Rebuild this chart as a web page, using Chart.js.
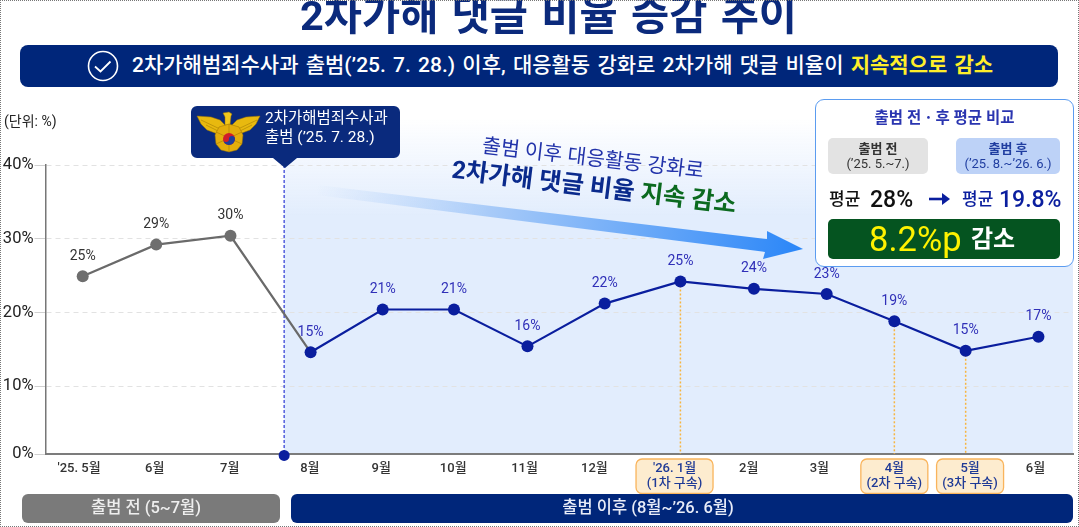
<!DOCTYPE html>
<html lang="ko">
<head>
<meta charset="UTF-8">
<title>2차가해 댓글 비율 증감 추이</title>
<script src="https://cdn.jsdelivr.net/npm/chart.js"></script>
<style>
  html, body { margin: 0; padding: 0; background: #fff; }
  body { width: 1079px; height: 527px; position: relative; overflow: hidden;
         font-family: Roboto, "Noto Sans CJK KR", sans-serif; }
  #frame { position: absolute; inset: 0; border: 1px dotted #777; box-sizing: border-box; z-index: 9; pointer-events: none; }
  canvas { position: absolute; left: 0; top: 0; }
  .t { position: absolute; white-space: nowrap; line-height: 1; }
  .c { text-align: center; }
  .box { position: absolute; box-sizing: border-box; }
  svg { position: absolute; left: 0; top: 0; }
</style>
</head>
<body>
<canvas id="chart" width="1079" height="527"></canvas>

<div class="t c" style="left:0;width:1097px;top:-5px;font-size:41.5px;font-weight:700;color:#0b2a7c;word-spacing:3px">2차가해 댓글 비율 증감 추이</div>

<div class="box" style="left:20px;top:45px;width:1038px;height:42px;background:#00267a;border-radius:8px"></div>
<div class="t" style="left:132px;top:55px;font-size:21px;font-weight:500;color:#fff;word-spacing:2px">2차가해범죄수사과 출범(’25. 7. 28.) 이후, 대응활동 강화로 2차가해 댓글 비율이 <span style="color:#ffee2a;font-weight:700">지속적으로 감소</span></div>

<div class="t" style="left:4px;top:114px;font-size:14px;color:#222">(단위: %)</div>

<svg width="1079" height="527" viewBox="0 0 1079 527">
  <defs>
    <linearGradient id="arrowFill" gradientUnits="userSpaceOnUse" x1="317" y1="190" x2="803" y2="249">
      <stop offset="0" stop-color="#bcd7fb" stop-opacity="0"/>
      <stop offset="0.35" stop-color="#a9cbf8"/>
      <stop offset="1" stop-color="#2a86f8"/>
    </linearGradient>
  </defs>
  <circle cx="103" cy="66" r="14.5" fill="none" stroke="#fff" stroke-width="1.6"/>
  <path d="M95 66.5l5.5 5 10-10" fill="none" stroke="#fff" stroke-width="1.8"/>
  <path d="M197 106h197a6 6 0 0 1 6 6v40a6 6 0 0 1-6 6H297l-12 10-12-10H197a6 6 0 0 1-6-6v-40a6 6 0 0 1 6-6z" fill="#0a2a7d"/>
  <!-- police emblem -->
  <g stroke="#9a7204" stroke-width=".5">
    <path d="M197 116l14 1 9 3 5 5 1 10-4 2-7-4-8-3-6-6z" fill="#e8b90f"/>
    <path d="M260 116l-14 1-9 3-5 5-1 10 4 2 7-4 8-3 6-6z" fill="#e8b90f"/>
    <path d="M201 120l19 9M206 125l14 7M238 129l19-9M238 132l14-7" fill="none"/>
    <path d="M223 113l6-1 3 2-1 2-1 9h-5l0-8z" fill="#f2c81c"/>
    <path d="M229 124l10 3 4 8-1 9-5 6-8 2-8-2-5-6-1-9 4-8z" fill="#e3ae0c"/>
    <path d="M229 124v28M216 132l26 12M242 132l-26 12" fill="none"/>
  </g>
  <circle cx="229" cy="139" r="6" fill="#d01c2a"/>
  <path d="M223 139a6 6 0 0 0 12 0a3 3 0 0 0-6 0a3 3 0 0 1-6 0z" fill="#1c3f9c"/>
  <polygon points="317,185 767,239 767,231 803,249 763,259 765,252 317,195" fill="url(#arrowFill)"/>
</svg>

<div class="t" style="left:265px;top:111px;font-size:15.5px;color:#fff">2차가해범죄수사과</div>
<div class="t" style="left:265px;top:130px;font-size:15.5px;color:#fff">출범 (’25. 7. 28.)</div>

<div class="t c" style="left:450px;width:286px;top:148px;font-size:20.5px;color:#2233aa;transform:rotate(6.5deg)">출범 이후 대응활동 강화로</div>
<div class="t c" style="left:420px;width:348px;top:175px;font-size:24.5px;font-weight:700;color:#0a2a8c;transform:rotate(7deg)">2차가해 댓글 비율 <span style="color:#0b6a1f">지속 감소</span></div>

<div class="box" style="left:815px;top:98.5px;width:259px;height:168.5px;background:#fff;border:1.5px solid #5b9cf0;border-radius:9px"></div>
<div class="t c" style="left:815px;width:259px;top:111px;font-size:15.5px;font-weight:700;color:#2a35b0">출범 전ㆍ후 평균 비교</div>
<div class="box" style="left:828px;top:138px;width:100px;height:36px;background:#e3e3e3;border-radius:5px"></div>
<div class="t c" style="left:828px;width:100px;top:142px;font-size:13px;font-weight:700;color:#333">출범 전</div>
<div class="t c" style="left:828px;width:100px;top:157px;font-size:13px;color:#333">(’25. 5.~7.)</div>
<div class="box" style="left:956px;top:138px;width:104px;height:36px;background:#bdd2f7;border-radius:5px"></div>
<div class="t c" style="left:956px;width:104px;top:142px;font-size:13px;font-weight:700;color:#1f3da0">출범 후</div>
<div class="t c" style="left:956px;width:104px;top:157px;font-size:13px;color:#1f3da0">(’25. 8.~’26. 6.)</div>
<div class="t" style="left:829px;top:191px;font-size:17px;font-weight:500;color:#111">평균</div>
<div class="t" style="left:870px;top:188px;font-size:23px;font-weight:500;color:#111">28%</div>
<div class="t" style="left:962px;top:191px;font-size:17px;font-weight:500;color:#0a1e9e">평균</div>
<div class="t" style="left:999px;top:188px;font-size:23px;font-weight:500;color:#0a1e9e">19.8%</div>
<svg width="1079" height="527" viewBox="0 0 1079 527">
  <path d="M929 199h16" stroke="#0a1e9e" stroke-width="2.6"/>
  <path d="M942 193l8 6-8 6z" fill="#0a1e9e"/>
</svg>
<div class="box" style="left:828px;top:219px;width:232px;height:40px;background:#055420;border-radius:5px"></div>
<div class="t" style="left:869px;top:222px;font-size:34.5px;font-weight:400;color:#fff200">8.2%p</div>
<div class="t" style="left:971px;top:227px;font-size:24px;font-weight:700;color:#fff">감소</div>

<div class="box" style="left:22px;top:494px;width:258px;height:29px;background:#7a7a7a;border-radius:6px"></div>
<div class="t c" style="left:22px;width:248px;top:500px;font-size:16.5px;font-weight:500;color:#eee">출범 전 (5~7월)</div>
<div class="box" style="left:291px;top:494px;width:782px;height:29px;background:#00267a;border-radius:6px"></div>
<div class="t c" style="left:291px;width:714px;top:500px;font-size:16.5px;font-weight:500;color:#e8ecf8">출범 이후 (8월~’26. 6월)</div>

<div id="frame"></div>

<script>
const months = ["'25. 5월", "6월", "7월", "8월", "9월", "10월", "11월", "12월", "'26. 1월", "2월", "3월", "4월", "5월", "6월"];
// heights (the printed labels are rounded)
const ratios = [24.9, 29.2, 30.4, 14.6, 20.4, 20.4, 15.4, 21.2, 24.2, 23.2, 22.5, 18.8, 14.8, 16.7];
const ratioLabels = ["25%", "29%", "30%", "15%", "21%", "21%", "16%", "22%", "25%", "24%", "23%", "19%", "15%", "17%"];
// the source spaces its months unevenly, so x is in month units along the axis
const monthSlots = [0, 1, 2.01, 3.1, 4.08, 5.05, 6.05, 7.1, 8.13, 9.13, 10.12, 11.04, 12.01, 13];
const labelSlots = [-0.05, 0.98, 2.0, 3.09, 4.06, 5.04, 6.01, 6.96, 8.05, 9.06, 10.02, 11.04, 12.07, 12.96];
const launchSlot = 2.74;
const preMonths = 3;
const arrestMonths = [8, 11, 12];
const arrestNotes = { 8: "(1차 구속)", 11: "(2차 구속)", 12: "(3차 구속)" };
const yTicks = [0.8, 10, 20, 30, 40];  // the source's 0% baseline sits just above a true zero
const yTickLabels = ["0%", "10%", "20%", "30%", "40%"];

const FONT = 'Roboto, "Noto Sans CJK KR", sans-serif';

const decorations = {
  id: "decorations",
  beforeDraw(chart) {
    const { ctx, chartArea, scales: { x } } = chart;
    const left = x.getPixelForValue(launchSlot);
    // pale band after the launch date, fading out upward
    const band = ctx.createLinearGradient(0, 118, 0, 215);
    band.addColorStop(0, "rgba(226,237,253,0)");
    band.addColorStop(1, "rgba(226,237,253,1)");
    ctx.fillStyle = band;
    ctx.fillRect(left, 118, chartArea.right - left, chartArea.bottom - 118);
    // chips behind the arrest months
    arrestMonths.forEach(i => {
      const c = x.getPixelForValue(labelSlots[i]);
      const w = i === 8 ? 77 : 67;
      ctx.beginPath();
      ctx.roundRect(c - w / 2, 459, w, 34.5, 6);
      ctx.fillStyle = "#fdeccf";
      ctx.fill();
      ctx.strokeStyle = "#f9b45c";
      ctx.lineWidth = 1.3;
      ctx.stroke();
    });
  },
  beforeDatasetsDraw(chart) {
    const { ctx, chartArea, scales: { x, y } } = chart;
    ctx.save();
    ctx.setLineDash([2, 2]);
    ctx.lineWidth = 1.5;
    ctx.strokeStyle = "#f7b540";
    arrestMonths.forEach(i => {
      const px = x.getPixelForValue(monthSlots[i]);
      ctx.beginPath();
      ctx.moveTo(px, y.getPixelForValue(ratios[i]));
      ctx.lineTo(px, chartArea.bottom);
      ctx.stroke();
    });
    const lx = x.getPixelForValue(launchSlot);
    ctx.setLineDash([3, 2]);
    ctx.lineWidth = 1.3;
    ctx.strokeStyle = "#3a45d8";
    ctx.beginPath();
    ctx.moveTo(lx, chartArea.top);
    ctx.lineTo(lx, chartArea.bottom);
    ctx.stroke();
    ctx.restore();
  },
  afterDatasetsDraw(chart) {
    const { ctx, scales: { x, y } } = chart;
    ctx.save();
    ctx.font = "14px " + FONT;
    ctx.textAlign = "center";
    ctx.textBaseline = "middle";
    ratioLabels.forEach((text, i) => {
      ctx.fillStyle = i < preMonths ? "#333" : "#3030b8";
      ctx.fillText(text, x.getPixelForValue(monthSlots[i]), y.getPixelForValue(ratios[i]) - 20);
    });
    ctx.restore();
  }
};

new Chart(document.getElementById("chart"), {
  type: "line",
  data: {
    datasets: [
      {
        label: "출범 전",
        data: monthSlots.slice(0, preMonths + 1).map((m, i) => ({ x: m, y: ratios[i] })),
        borderColor: "#6a6a6a",
        backgroundColor: "#6e6e6e",
        borderWidth: 2.2,
        pointBorderWidth: 0,
        pointRadius: ctx => ctx.dataIndex === preMonths ? 0 : 6,
        order: 3
      },
      {
        label: "출범 이후",
        data: monthSlots.slice(preMonths).map((m, i) => ({ x: m, y: ratios[i + preMonths] })),
        borderColor: "#0a1e9e",
        backgroundColor: "#0a1e9e",
        borderWidth: 2.2,
        pointBorderWidth: 0,
        pointRadius: 6,
        order: 2
      },
      {
        label: "출범",
        data: [{ x: launchSlot, y: yTicks[0] - 0.2 }],
        backgroundColor: "#0a1e9e",
        borderColor: "#0a1e9e",
        pointBorderWidth: 0,
        pointRadius: 5.5,
        clip: false,
        order: 1
      }
    ]
  },
  options: {
    responsive: false,
    animation: false,
    layout: { padding: { left: 0, right: 5, top: 165, bottom: 0 } },
    plugins: { legend: { display: false }, tooltip: { enabled: false } },
    scales: {
      x: {
        type: "linear",
        min: -0.506,
        max: 13.47,
        afterBuildTicks: axis => { axis.ticks = labelSlots.map(v => ({ value: v })); },
        afterFit: axis => { axis.height = 73; },
        grid: { drawOnChartArea: false, drawTicks: false },
        border: { color: "#7c7c7c", width: 2 },
        ticks: {
          autoSkip: false,
          maxRotation: 0,
          padding: 7,
          font: { family: FONT, size: 13, weight: "500", lineHeight: 1.15 },
          color: ctx => arrestMonths.includes(ctx.index) ? "#1f3a96" : "#333",
          callback: (v, i) => arrestNotes[i] ? [months[i], arrestNotes[i]] : months[i]
        }
      },
      y: {
        min: yTicks[0],
        max: 40,
        afterBuildTicks: axis => { axis.ticks = yTicks.map(v => ({ value: v })); },
        afterFit: axis => { axis.width = 45.5; },
        grid: { color: "#e2e2e2", tickColor: "#d0d0d0", tickLength: 11, lineWidth: 1 },
        border: { color: "#777", width: 1.5, dash: [5, 4] },
        ticks: {
          padding: 1,
          font: { family: FONT, size: 16.5 },
          color: "#222",
          callback: (v, i) => yTickLabels[i]
        }
      }
    }
  },
  plugins: [decorations]
});
</script>
</body>
</html>
